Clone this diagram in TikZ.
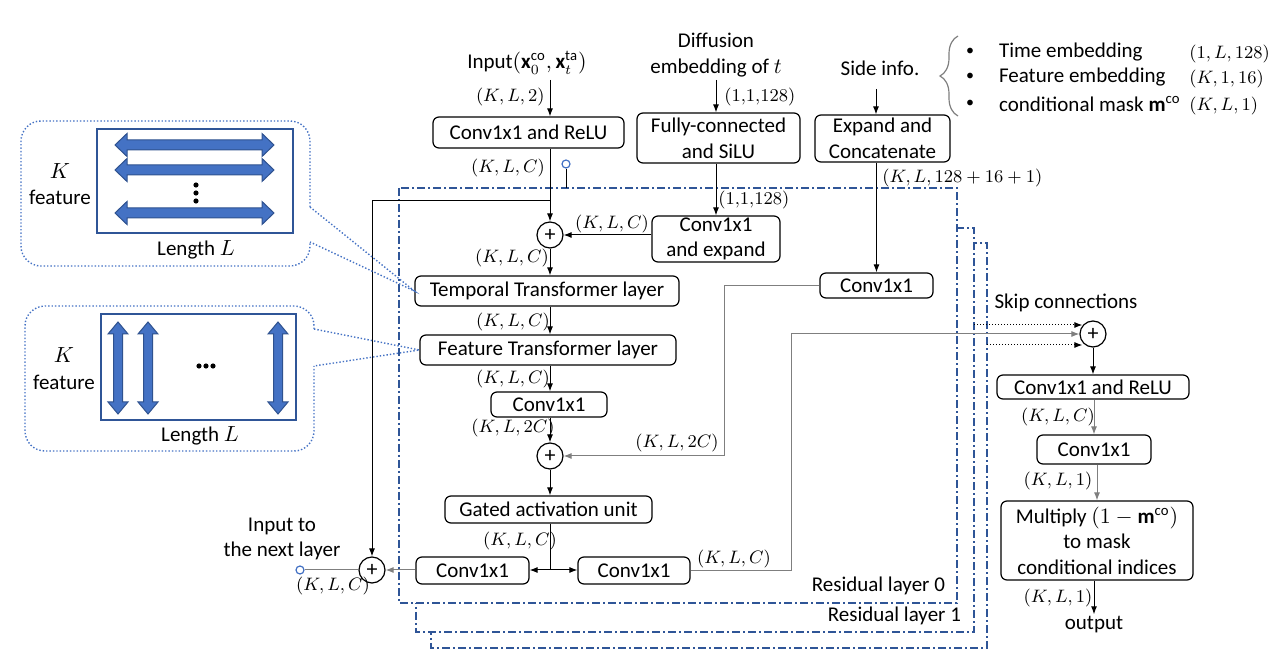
\documentclass[tikz,border=0pt]{standalone}
\usepackage{fontspec}
\setmainfont{Carlito}
\usepackage{amsmath}
\usepackage{tikz}
\usetikzlibrary{arrows.meta, decorations.pathreplacing, positioning, calc}

\definecolor{resblue}{HTML}{2F5597}
\definecolor{callblue}{HTML}{4472C4}
\definecolor{arrline}{HTML}{2F528F}
\definecolor{wiregray}{HTML}{7F7F7F}

\tikzset{
  blk/.style={draw, rounded corners=3pt, line width=0.6pt, inner sep=0pt, align=center},
  sumc/.style={draw, circle, line width=0.6pt, minimum size=13pt, inner sep=0pt, font=\fontsize{11}{11}\selectfont},
  port/.style={draw=callblue, circle, line width=0.6pt, minimum size=4pt, inner sep=0pt},
  conn/.style={line width=0.5pt, -{Latex[length=4pt,width=3pt]}},
  gconn/.style={conn, draw=wiregray},
  dconn/.style={conn, densely dotted},
  dimlab/.style={font=\fontsize{8.8}{10}\selectfont, inner sep=0pt},
  resbox/.style={draw=resblue, fill=white, line width=0.6pt, dash pattern=on 4pt off 1.5pt on 1pt off 1.5pt},
  callout/.style={draw=callblue, line width=0.7pt, densely dotted},
  dblarrow/.style={fill=callblue, draw=arrline, line width=0.5pt},
}

\begin{document}
\begin{tikzpicture}[x=0.5pt, y=-0.5pt, font=\fontsize{10.5}{12.8}\selectfont]
\useasboundingbox (0,0) rectangle (1282,668);

% residual layers
\draw[resbox] (431,243) rectangle (987,648);
\draw[resbox] (416,228) rectangle (974,632);
\draw[resbox] (399,188) rectangle (957,603);
\coordinate (r0top) at (399,188);
\coordinate (r1e) at (974,325);
\coordinate (r2e) at (987,345);
\node[anchor=east] (res0) at (952,586) {Residual layer 0};
\node[anchor=east] (res1) at (968,616) {Residual layer 1};

% inputs
\node (input) at (527,63) {Input$(\mathbf{x}_0^{\mathrm{co}},\mathbf{x}_t^{\mathrm{ta}})$};
\node[align=center] (diff) at (716,55) {Diffusion\\embedding of $t$};
\node (side) at (880,68) {Side info.};
\draw[wiregray, line width=0.6pt, decorate, decoration={brace, amplitude=9pt}] (958,116) -- (958,36);
\foreach \y/\txt/\dm [count=\i] in {52/Time embedding/{$(1,L,128)$}, 77/Feature embedding/{$(K,1,16)$}, 104/{conditional mask $\mathbf{m}^{\mathrm{co}}$}/{$(K,L,1)$}} {
    \node[font=\fontsize{8}{8}\selectfont] (bul\i) at (970,\y) {\textbullet};
    \node[anchor=west] (item\i) at (992,\y) {\txt};
    \node[dimlab, anchor=west] (dim\i) at (1189,\y+2) {\dm};
}

% blocks
\node[blk, minimum width=95.5pt, minimum height=15.5pt] (inrelu) at (528.5,132.5) {Conv1x1 and ReLU};
\node[blk, minimum width=81.5pt, minimum height=25pt] (fcsilu) at (718.5,138) {Fully-connected\\and SiLU};
\node[blk, minimum width=67.5pt, minimum height=23.5pt] (expcat) at (882.5,138.5) {Expand and\\Concatenate};
\node[blk, minimum width=64pt, minimum height=23pt] (cexp) at (716,239) {Conv1x1\\and expand};
\node[blk, minimum width=132pt, minimum height=15pt] (temporal) at (547,291) {Temporal Transformer layer};
\node[blk, minimum width=128pt, minimum height=15pt] (feature) at (548,350) {Feature Transformer layer};
\node[blk, minimum width=58pt, minimum height=12.5pt] (cmid) at (549,404.5) {Conv1x1};
\node[blk, minimum width=103.5pt, minimum height=13.5pt] (gated) at (548.5,509.5) {Gated activation unit};
\node[blk, minimum width=56.5pt, minimum height=13.5pt] (cout) at (472.5,570.5) {Conv1x1};
\node[blk, minimum width=56pt, minimum height=13.5pt] (cskip) at (634,570.5) {Conv1x1};
\node[blk, minimum width=56.5pt, minimum height=12.5pt] (cside) at (876.5,285.5) {Conv1x1};
\node[blk, minimum width=96pt, minimum height=12pt] (orelu) at (1093,387) {Conv1x1 and ReLU};
\node[blk, minimum width=57pt, minimum height=14.5pt] (oconv) at (1094,449.5) {Conv1x1};
\node[blk, minimum width=96pt, minimum height=39.5pt] (mult) at (1097,540.5) {Multiply $(1-\mathbf{m}^{\mathrm{co}})$\\to mask\\conditional indices};

% sums and ports
\node[sumc] (s1) at (550,235) {+};
\node[sumc] (s2) at (550,456) {+};
\node[sumc] (s3) at (372,570) {+};
\node[sumc] (s4) at (1093,334) {+};
\node[port] (inport) at (566,164) {};
\node[port] (outport) at (300,570) {};
\node[align=center] (nextin) at (282,539) {Input to\\the next layer};
\node (skiplab) at (1066,303) {Skip connections};
\node[inner sep=1pt] (output) at (1094,625) {output};

% connectors
\coordinate (inp) at (550,80);
\draw[conn] (inp) -- (inp |- inrelu.north);
\draw[conn] (inrelu.south -| s1) -- (s1.north);
\coordinate (jn) at (550,201);
\draw[conn] (jn) -| (s3.north);
\draw[line width=0.5pt] (inport.south) -- (inport |- r0top);
\coordinate (dif) at (716,80);
\draw[conn] (dif) -- (dif |- fcsilu.north);
\draw[conn] (fcsilu.south -| cexp) -- (cexp.north);
\draw[conn] (cexp.west |- s1) -- (s1.east);
\draw[conn] (s1.south) -- (s1 |- temporal.north);
\draw[conn] (temporal.south -| s2) -- (s2 |- feature.north);
\draw[conn] (feature.south -| s2) -- (s2 |- cmid.north);
\draw[conn] (cmid.south -| s2) -- (s2.north);
\draw[conn] (s2.south) -- (s2 |- gated.north);
\coordinate (sp) at (550,570);
\draw[line width=0.5pt] (gated.south -| sp) -- (sp);
\draw[conn] (sp) -- (cout.east |- sp);
\draw[conn] (sp) -- (cskip.west |- sp);
\draw[gconn] (cout.west |- s3) -- (s3.east);
\draw[wiregray, line width=0.5pt] (s3.west) -- (outport.east);
\coordinate (sinf) at (876,89);
\draw[conn] (sinf) -- (sinf |- expcat.north);
\draw[conn] (expcat.south -| cside) -- (cside.north);
\coordinate (sidebend) at (724,456);
\draw[gconn] (cside.west) -| (sidebend) -- (s2.east);
\coordinate (skipbend) at (791,334);
\draw[gconn] (cskip.east) -| (skipbend) -- (s4.west);
\draw[dconn] (r1e) -- ([xshift=1.5pt]r1e -| s4.west);
\draw[dconn] (r2e) -- ([xshift=1.5pt]r2e -| s4.west);
\draw[conn] (s4.south) -- (s4 |- orelu.north);
\draw[gconn] (orelu.south -| oconv) -- (oconv.north);
\draw[gconn] (oconv.south -| mult) -- (mult.north);
\draw[conn] (mult.south -| output) -- (output.north);

% shape labels
\node[dimlab, anchor=east] (l1) at (545,97) {$(K,L,2)$};
\node[dimlab] (l2) at (508,168) {$(K,L,C)$};
\node[dimlab] (l3) at (612,224) {$(K,L,C)$};
\node[dimlab] (l4) at (512,258) {$(K,L,C)$};
\node[dimlab] (l5) at (513,322) {$(K,L,C)$};
\node[dimlab] (l6) at (513,379) {$(K,L,C)$};
\node[dimlab] (l7) at (513,428) {$(K,L,2C)$};
\node[dimlab] (l8) at (677,443) {$(K,L,2C)$};
\node[dimlab] (l9) at (520,541) {$(K,L,C)$};
\node[dimlab] (l10) at (333,586) {$(K,L,C)$};
\node[dimlab] (l11) at (734,559) {$(K,L,C)$};
\node[dimlab, anchor=west] (l12) at (724,97) {$(1{,}1{,}128)$};
\node[dimlab, anchor=west] (l13) at (718,200) {$(1{,}1{,}128)$};
\node[dimlab, anchor=west] (l14) at (882,178) {$(K,L,128+16+1)$};
\node[dimlab] (l15) at (1058,417) {$(K,L,C)$};
\node[dimlab] (l16) at (1058,481) {$(K,L,1)$};
\node[dimlab] (l17) at (1058,598) {$(K,L,1)$};

% temporal callout
\draw[callout, rounded corners=10pt] (310,207) -- (310,121) -- (21,121) -- (21,266) -- (310,266) -- (310,242);
\draw[callout] (310,207) -- (temporal.west) -- (310,242);
\draw[draw=resblue, line width=0.8pt] (97,129) rectangle (293,233);
\foreach \c in {145,170,213} {
    \draw[dblarrow] (115,\c) -- (127,\c-11.5) -- (127,\c-5) -- (262,\c-5) -- (262,\c-11.5) -- (274,\c)
        -- (262,\c+11.5) -- (262,\c+5) -- (127,\c+5) -- (127,\c+11.5) -- cycle;
}
\foreach \y in {185,193,201} {
    \fill (196,\y) circle (1.3pt);
}
\node (k1) at (60,171) {$K$};
\node (f1) at (60,197) {feature};
\node (len1) at (196,250) {Length $L$};

% feature callout
\draw[callout, rounded corners=10pt] (314,329) -- (314,306) -- (25,306) -- (25,451) -- (314,451) -- (314,366);
\draw[callout] (314,329) -- (feature.west) -- (314,366);
\draw[draw=resblue, line width=0.8pt] (101,314) rectangle (296,420);
\foreach \c in {118,148,278} {
    \draw[dblarrow] (\c,322) -- (\c-10,334) -- (\c-4.5,334) -- (\c-4.5,402) -- (\c-10,402) -- (\c,414)
        -- (\c+10,402) -- (\c+4.5,402) -- (\c+4.5,334) -- (\c+10,334) -- cycle;
}
\foreach \x in {199,206,213} {
    \fill (\x,366) circle (1.3pt);
}
\node (k2) at (64,355) {$K$};
\node (f2) at (64,382) {feature};
\node (len2) at (200,436) {Length $L$};
\end{tikzpicture}
\end{document}
